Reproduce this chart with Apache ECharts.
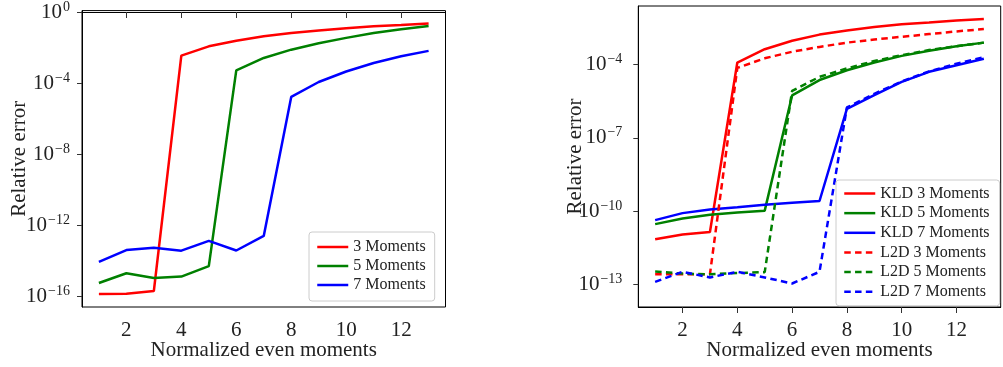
<!DOCTYPE html>
<html>
<head>
<meta charset="utf-8">
<script src="https://cdn.jsdelivr.net/npm/echarts@6/dist/echarts.min.js"></script>
<style>
html,body{margin:0;padding:0;background:#fff;}
#c{width:1003px;height:367px;}
</style>
</head>
<body>
<div id="c"></div>
<script>
// ---- data ----
const xs = [1,2,3,4,5,6,7,8,9,10,11,12,13];

// left panel
const leftNames = ['3 Moments','5 Moments','7 Moments'];
const m3 = [1.35e-16,1.38e-16,2.0e-16,3.5e-3,1.17e-2,2.4e-2,4.3e-2,6.5e-2,9.1e-2,0.123,0.158,0.186,0.224];
const m5 = [5.6e-16,2.0e-15,1.07e-15,1.29e-15,5.0e-15,5.2e-4,2.6e-3,7.6e-3,1.74e-2,3.5e-2,6.5e-2,0.107,0.162];
const m7 = [8.7e-15,4.0e-14,5.4e-14,3.7e-14,1.32e-13,3.8e-14,2.5e-13,1.66e-5,1.15e-4,4.5e-4,1.35e-3,3.2e-3,6.5e-3];

// right panel
const rightNames = ['KLD 3 Moments','KLD 5 Moments','KLD 7 Moments','L2D 3 Moments','L2D 5 Moments','L2D 7 Moments'];
const kld3 = [7.1e-12,1.12e-11,1.41e-11,1.2e-4,4.2e-4,9.3e-4,1.66e-3,2.45e-3,3.4e-3,4.4e-3,5.2e-3,6.2e-3,7.2e-3];
const kld5 = [2.95e-11,5.0e-11,7.2e-11,8.9e-11,1.05e-10,5.4e-6,2.3e-5,5.8e-5,1.2e-4,2.24e-4,3.6e-4,5.5e-4,7.8e-4];
const kld7 = [4.3e-11,8.3e-11,1.17e-10,1.45e-10,1.82e-10,2.2e-10,2.6e-10,1.51e-6,5.6e-6,1.95e-5,5.0e-5,9.3e-5,1.7e-4];
const l2d3 = [2.6e-13,2.6e-13,2.6e-13,7.2e-5,1.78e-4,3.3e-4,5.2e-4,7.8e-4,1.05e-3,1.35e-3,1.74e-3,2.24e-3,2.8e-3];
const l2d5 = [3.4e-13,2.8e-13,2.6e-13,2.95e-13,3.2e-13,8.3e-6,3.1e-5,6.9e-5,1.38e-4,2.4e-4,3.9e-4,5.6e-4,7.8e-4];
const l2d7 = [1.29e-13,3.3e-13,1.95e-13,3.3e-13,1.95e-13,1.1e-13,3.3e-13,1.74e-6,6.3e-6,2.0e-5,5.2e-5,1.07e-4,2.0e-4];

// tick labels
const xTicks = [2,4,6,8,10,12];
const leftYTicks = [-16,-12,-8,-4,0];   // exponents of 10
const rightYTicks = [-13,-10,-7,-4];    // exponents of 10
const xLabel = 'Normalized even moments';
const yLabel = 'Relative error';

// ---- chart ----
const FONT = 'Liberation Serif';
const RED = '#ff0000', GREEN = '#008000', BLUE = '#0000ff';

function pts(arr){ return xs.map((x,i)=>[x, Math.log10(arr[i])]); }
function supLabel(v){
  const e = Math.round(v);
  return '{b|10}{s|' + (e < 0 ? '\u2212' + (-e) : String(e)) + '}';
}
const rich = {
  b:{fontFamily:FONT,fontSize:21,color:'#222',lineHeight:24},
  s:{fontFamily:FONT,fontSize:14,color:'#222',verticalAlign:'top',lineHeight:14,padding:[0,0,0,1]}
};

function xAxisCfg(gi){
  return {
    type:'value', gridIndex:gi, min:0.385, max:13.615,
    axisLine:{show:true,lineStyle:{color:'#000',width:1}},
    axisTick:{show:true,customValues:xTicks,length:6,inside:false,lineStyle:{color:'#333',width:1}},
    axisLabel:{customValues:xTicks,margin:13,fontFamily:FONT,fontSize:21,color:'#222'},
    splitLine:{show:false},
    name:xLabel, nameLocation:'middle', nameGap:33, nameMoveOverlap:false,
    nameTextStyle:{fontFamily:FONT,fontSize:21,color:'#222'}
  };
}
function yAxisCfg(gi,min,max,ticks,margin,gap){
  return {
    type:'value', gridIndex:gi, min:min, max:max,
    axisLine:{show:true,lineStyle:{color:'#000',width:1}},
    axisTick:{show:true,customValues:ticks,length:5,lineStyle:{color:'#333',width:1}},
    axisLabel:{customValues:ticks,margin:margin,formatter:supLabel,rich:rich},
    splitLine:{show:false},
    name:yLabel, nameLocation:'middle', nameGap:gap, nameMoveOverlap:false,
    nameTextStyle:{fontFamily:FONT,fontSize:21,color:'#222'}
  };
}
function line(name,arr,color,dashed,xi,yi){
  return {
    name:name, type:'line', xAxisIndex:xi, yAxisIndex:yi, data:pts(arr),
    symbol:'none', showSymbol:false, silent:true,
    lineStyle:{color:color,width:2.5,type:dashed?[6.5,4.3]:'solid'},
    itemStyle:{color:color}
  };
}
const legendCommon = {
  orient:'vertical', itemWidth:31, itemHeight:14, selectedMode:false,
  backgroundColor:'#fff', borderColor:'#cccccc', borderWidth:1, borderRadius:3,
  itemStyle:{opacity:0, color:'transparent', borderColor:'transparent', borderWidth:0},
  lineStyle:{width:2.5}
};

const chart = echarts.init(document.getElementById('c'), null, {renderer:'canvas'});
chart.setOption({
  animation:false,
  backgroundColor:'#fff',
  grid:[
    {left:82, top:6, width:363.5, height:301, show:true, borderColor:'#000', borderWidth:1, backgroundColor:'transparent'},
    {left:638.3, top:6, width:362.4, height:301, show:true, borderColor:'#000', borderWidth:1, backgroundColor:'transparent'}
  ],
  xAxis:[xAxisCfg(0), xAxisCfg(1)],
  yAxis:[yAxisCfg(0,-16.6,0.08,leftYTicks,12,52), yAxisCfg(1,-13.92,-1.61,rightYTicks,16,52)],
  legend:[
    Object.assign({}, legendCommon, {data:leftNames, left:309, top:232, itemGap:3, padding:[7,9,8,7],
     textStyle:{fontFamily:FONT,fontSize:16,lineHeight:14,color:'#222',width:72}}),
    Object.assign({}, legendCommon, {data:rightNames, left:836, top:180, itemGap:3.65, padding:[5.5,10,6,7],
     textStyle:{fontFamily:FONT,fontSize:16,lineHeight:14,color:'#222',width:107}})
  ],
  series:[
    line(leftNames[0],m3,RED,false,0,0),
    line(leftNames[1],m5,GREEN,false,0,0),
    line(leftNames[2],m7,BLUE,false,0,0),
    line(rightNames[0],kld3,RED,false,1,1),
    line(rightNames[1],kld5,GREEN,false,1,1),
    line(rightNames[2],kld7,BLUE,false,1,1),
    line(rightNames[3],l2d3,RED,true,1,1),
    line(rightNames[4],l2d5,GREEN,true,1,1),
    line(rightNames[5],l2d7,BLUE,true,1,1)
  ]
});
</script>
</body>
</html>
